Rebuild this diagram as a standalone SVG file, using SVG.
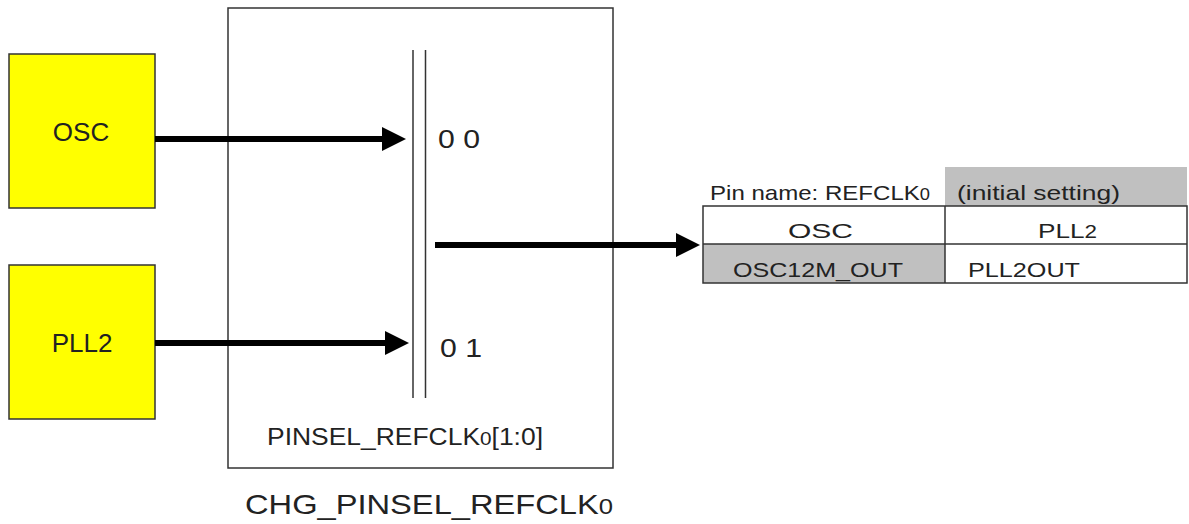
<svg xmlns="http://www.w3.org/2000/svg" width="1189" height="524" viewBox="0 0 1189 524">
<style>
text{font-family:"Liberation Sans",Arial,sans-serif;fill:#222}
.src{fill:#ffff00;stroke:#333;stroke-width:1.5}
.thin{stroke:#333;stroke-width:1.5;fill:none}
.arr{stroke:#000;stroke-width:6;fill:none}
.cell{stroke:#333;stroke-width:1.5}
</style>
<defs>
<marker id="ah" markerUnits="userSpaceOnUse" markerWidth="24" markerHeight="24" refX="2" refY="12" orient="auto">
<path d="M0,0 L24,12 L0,24 z" fill="#000"/>
</marker>
</defs>
<g id="block">
<rect class="thin" x="228" y="8" width="385" height="460"/>
<line class="thin" x1="413" y1="50" x2="413" y2="398"/>
<line class="thin" x1="425.5" y1="50" x2="425.5" y2="398"/>
<text x="438" y="148" font-size="25" textLength="42" lengthAdjust="spacingAndGlyphs">0 0</text>
<text x="440" y="357" font-size="25" textLength="42" lengthAdjust="spacingAndGlyphs">0 1</text>
<text x="267" y="445" font-size="23" textLength="276" lengthAdjust="spacingAndGlyphs">PINSEL_REFCLK<tspan font-size="18">0</tspan>[1:0]</text>
<text x="245" y="514" font-size="28" textLength="368" lengthAdjust="spacingAndGlyphs">CHG_PINSEL_REFCLK<tspan font-size="22">0</tspan></text>
</g>
<g id="osc">
<rect class="src" x="9" y="54" width="146" height="154"/>
<text x="81" y="141" font-size="26" text-anchor="middle">OSC</text>
</g>
<g id="pll2">
<rect class="src" x="9" y="265" width="146" height="154"/>
<text x="82" y="352" font-size="26" text-anchor="middle">PLL2</text>
</g>
<g id="table">
<rect x="945" y="167" width="242" height="39" fill="#c0c0c0"/>
<rect x="703" y="244" width="242" height="39" fill="#c0c0c0"/>
<rect class="cell" x="703" y="206" width="484" height="77" fill="none"/>
<line class="cell" x1="703" y1="244" x2="1187" y2="244"/>
<line class="cell" x1="945" y1="206" x2="945" y2="283"/>
<text x="710" y="200" font-size="21" textLength="220" lengthAdjust="spacingAndGlyphs">Pin name: REFCLK<tspan font-size="16">0</tspan></text>
<text x="957" y="200" font-size="21" textLength="163" lengthAdjust="spacingAndGlyphs">(initial setting)</text>
<text x="788" y="238" font-size="21" textLength="65" lengthAdjust="spacingAndGlyphs">OSC</text>
<text x="1038" y="238" font-size="21" textLength="59" lengthAdjust="spacingAndGlyphs">PLL<tspan font-size="18">2</tspan></text>
<text x="733" y="277" font-size="21" textLength="170" lengthAdjust="spacingAndGlyphs">OSC12M_OUT</text>
<text x="968" y="277" font-size="21" textLength="112" lengthAdjust="spacingAndGlyphs">PLL2OUT</text>
</g>
<g id="connectors">
<line class="arr" x1="155" y1="139" x2="384" y2="139" marker-end="url(#ah)"/>
<line class="arr" x1="155" y1="343" x2="387" y2="343" marker-end="url(#ah)"/>
<line class="arr" x1="435" y1="245" x2="678" y2="245" marker-end="url(#ah)"/>
</g>
</svg>
